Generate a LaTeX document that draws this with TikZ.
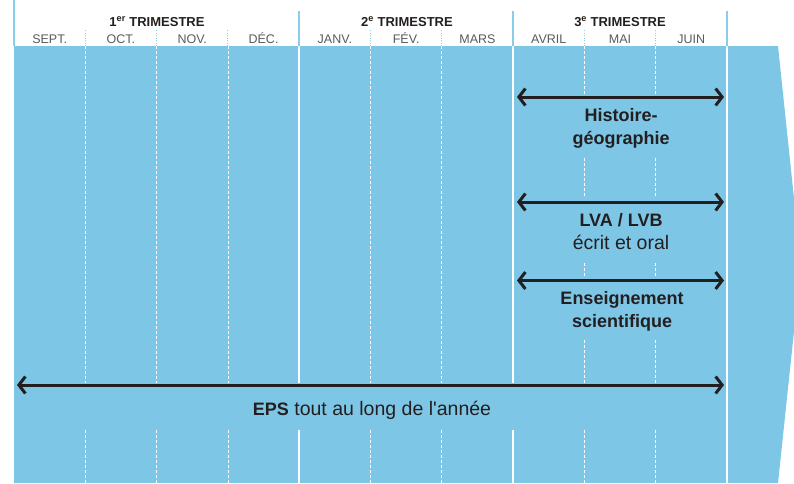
\documentclass[tikz,border=0pt]{standalone}
\usepackage{fontspec}
\setmainfont{Liberation Sans}
\usepackage{xcolor}
\usetikzlibrary{arrows.meta,positioning}
\definecolor{skyband}{HTML}{7EC6E6}
\definecolor{skyline}{HTML}{8ACDEB}
\definecolor{inkdark}{HTML}{231F20}
\definecolor{monthgray}{HTML}{5A5A5A}
\newcommand{\plainpart}[1]{{\fontsize{19.5}{23}\selectfont #1}}

\begin{document}
\begin{tikzpicture}[x=1pt, y=-1pt,
        band/.style={fill=skyband, draw=none},
        rule/.style={skyline, line width=1.6pt},
        ruledot/.style={skyline, line width=1pt, dash pattern=on 1pt off 1.5pt},
        split/.style={white, line width=1.8pt},
        splitdash/.style={white, line width=0.8pt, dash pattern=on 3pt off 2pt},
        term/.style={font=\bfseries\fontsize{13}{15}\selectfont, text=inkdark, inner sep=0pt},
        month/.style={font=\fontsize{12.5}{15}\selectfont, text=monthgray, inner sep=0pt},
        subject/.style={font=\fontsize{18}{23}\selectfont, text=inkdark, align=center, inner sep=0pt},
        span/.style={{Straight Barb[length=6.5pt,width=17pt]}-{Straight Barb[length=6.5pt,width=17pt]}, line width=3pt, inkdark}
    ]
        \useasboundingbox (0,0) rectangle (794,483);
        \clip (0,0) rectangle (794,483);

        % Band
        \fill[band] (14,46) -- (778,46) -- (801,265) -- (778,483) -- (14,483) -- cycle;

        % Header rules
        \draw[rule] (14,0) -- (14,46);
        \foreach \i in {4,7,10}
            \draw[rule] ({14+71.3*\i},11) -- ({14+71.3*\i},46);
        \foreach \i in {1,2,3,5,6,8,9}
            \draw[ruledot] ({14+71.3*\i},30) -- ({14+71.3*\i},46);

        % Month splits in the band
        \foreach \i in {1,2,3,5,6} {
            \draw[splitdash] ({14+71.3*\i},46) -- ({14+71.3*\i},383);
            \draw[splitdash] ({14+71.3*\i},430) -- ({14+71.3*\i},483);
        }
        \foreach \i in {4,7} {
            \draw[split] ({14+71.3*\i},46) -- ({14+71.3*\i},383);
            \draw[split] ({14+71.3*\i},430) -- ({14+71.3*\i},483);
        }
        \foreach \i in {8,9}
            \foreach \a/\b in {46/95,158/198,263/277,340/383,430/483}
                \draw[splitdash] ({14+71.3*\i},\a) -- ({14+71.3*\i},\b);
        \draw[split] (727,46) -- (727,483);

        % Terms and months
        \node[term, anchor=base] (t1) at (157,26) {1\textsuperscript{er} TRIMESTRE};
        \node[term, anchor=base] (t2) at (407,26) {2\textsuperscript{e} TRIMESTRE};
        \node[term, anchor=base] (t3) at (620,26) {3\textsuperscript{e} TRIMESTRE};
        \foreach \mname [count=\i] in {SEPT.,OCT.,NOV.,DÉC.,JANV.,FÉV.,MARS,AVRIL,MAI,JUIN}
            \node[month, anchor=base] (m\i) at ({14+71.3*(\i-0.5)},43.3) {\mname};

        % Subjects
        \node[subject, anchor=north] (hg) at (621,108) {\textbf{Histoire-}\\\textbf{géographie}};
        \node[subject, anchor=north] (lv) at (621,213) {\textbf{LVA / LVB}\\\plainpart{écrit et oral}};
        \node[subject, anchor=north] (es) at (622,291.5) {\textbf{Enseignement}\\\textbf{scientifique}};
        \node[subject, anchor=base] (eps) at (372,415) {\textbf{EPS}\plainpart{ tout au long de l\textquotesingle année}};

        % Arrows
        \coordinate (hg-w) at (517,97);
        \coordinate (hg-e) at (724,97);
        \coordinate (lv-w) at (517,202);
        \coordinate (lv-e) at (724,202);
        \coordinate (es-w) at (517,280.5);
        \coordinate (es-e) at (724,280.5);
        \coordinate (eps-w) at (17,385);
        \coordinate (eps-e) at (724,385);
        \draw[span] (hg-w) -- (hg-e);
        \draw[span] (lv-w) -- (lv-e);
        \draw[span] (es-w) -- (es-e);
        \draw[span] (eps-w) -- (eps-e);
    \end{tikzpicture}
\end{document}
